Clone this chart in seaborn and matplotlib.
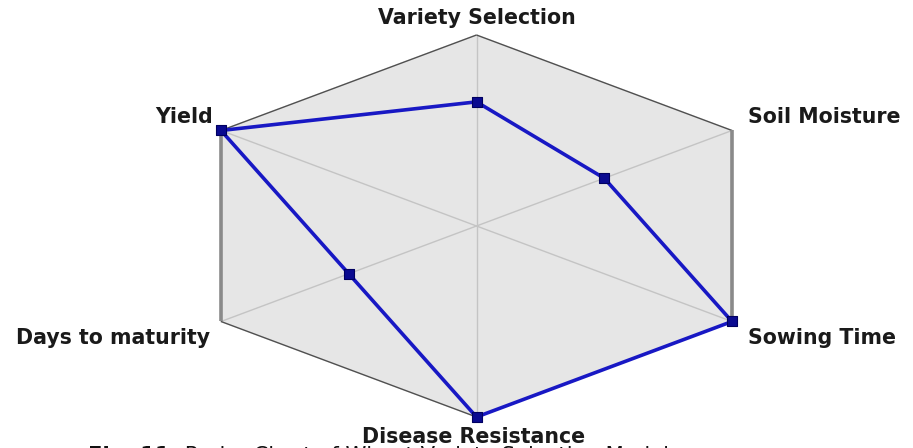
import numpy as np
import pandas as pd
import matplotlib
matplotlib.use("Agg")
import matplotlib.pyplot as plt
import seaborn as sns

categories = ["Variety Selection", "Soil Moisture", "Sowing Time",
              "Disease Resistance", "Days to maturity", "Yield"]
values = [0.65, 0.5, 1.0, 1.0, 0.5, 1.0]
caption_bold = "Fig. 11."
caption_rest = " Radar Chart of Wheat Variety Selection Model"

sns.set_theme(style="white")
plt.rcParams['font.family'] = ['DejaVu Sans']

W, H = 913, 448
fig = plt.figure(figsize=(W / 100, H / 100), dpi=100)
ax = fig.add_axes([0, 0, 1, 1])

cx, cy = 476.5, 226.0
half_w, ry = 255.5, 191.0
rx = half_w / np.cos(np.radians(30))
angles = np.radians([90, 30, -30, -90, -150, 150])


def to_xy(r, a):
    return cx + r * rx * np.cos(a), cy - r * ry * np.sin(a)


vx, vy = to_xy(1.0, angles)
ax.fill(vx, vy, color="#e6e6e6", zorder=0)
for x, y in zip(vx, vy):
    ax.plot([cx, x], [cy, y], color="#c4c4c4", lw=1.0, zorder=1)
for i in range(6):
    j = (i + 1) % 6
    vertical = abs(vx[i] - vx[j]) < 1
    ax.plot([vx[i], vx[j]], [vy[i], vy[j]],
            color="#8a8a8a" if vertical else "#505050",
            lw=2.6 if vertical else 1.0, zorder=2,
            solid_capstyle="butt")

px, py = to_xy(np.array(values), angles)
df = pd.DataFrame({"x": np.append(px, px[0]), "y": np.append(py, py[0]),
                   "cat": categories + [categories[0]]})
sns.lineplot(data=df, x="x", y="y", sort=False, estimator=None, ax=ax,
             color="#1818c4", lw=2.6, zorder=3)
sns.scatterplot(data=df.iloc[:-1], x="x", y="y", marker="s", s=45,
                color="#0a0a90", edgecolor="#000060", linewidth=0.8,
                ax=ax, zorder=4)
ax.set_xlim(0, W)
ax.set_ylim(H, 0)
ax.axis("off")

fs = 14.8
lab = dict(fontsize=fs, fontweight="bold", color="#1a1a1a")
ax.text(cx, 18, categories[0], ha="center", va="center", **lab)
ax.text(748, 117, categories[1], ha="left", va="center", **lab)
ax.text(748, 338, categories[2], ha="left", va="center", **lab)
ax.text(cx - 3, 437, categories[3], ha="center", va="center", **lab)
ax.text(210, 338, categories[4], ha="right", va="center", **lab)
ax.text(213, 117, categories[5], ha="right", va="center", **lab)

cap_fs = 15.2
t1 = ax.text(88, 445.5, caption_bold, ha="left", va="top", fontsize=cap_fs,
             fontweight="bold", color="#111111")
fig.canvas.draw()
bb = t1.get_window_extent()
x_end = ax.transData.inverted().transform((bb.x1, bb.y0))[0]
ax.text(x_end, 445.5, caption_rest, ha="left", va="top", fontsize=cap_fs,
        color="#111111")

fig.savefig("out.png", dpi=100)
